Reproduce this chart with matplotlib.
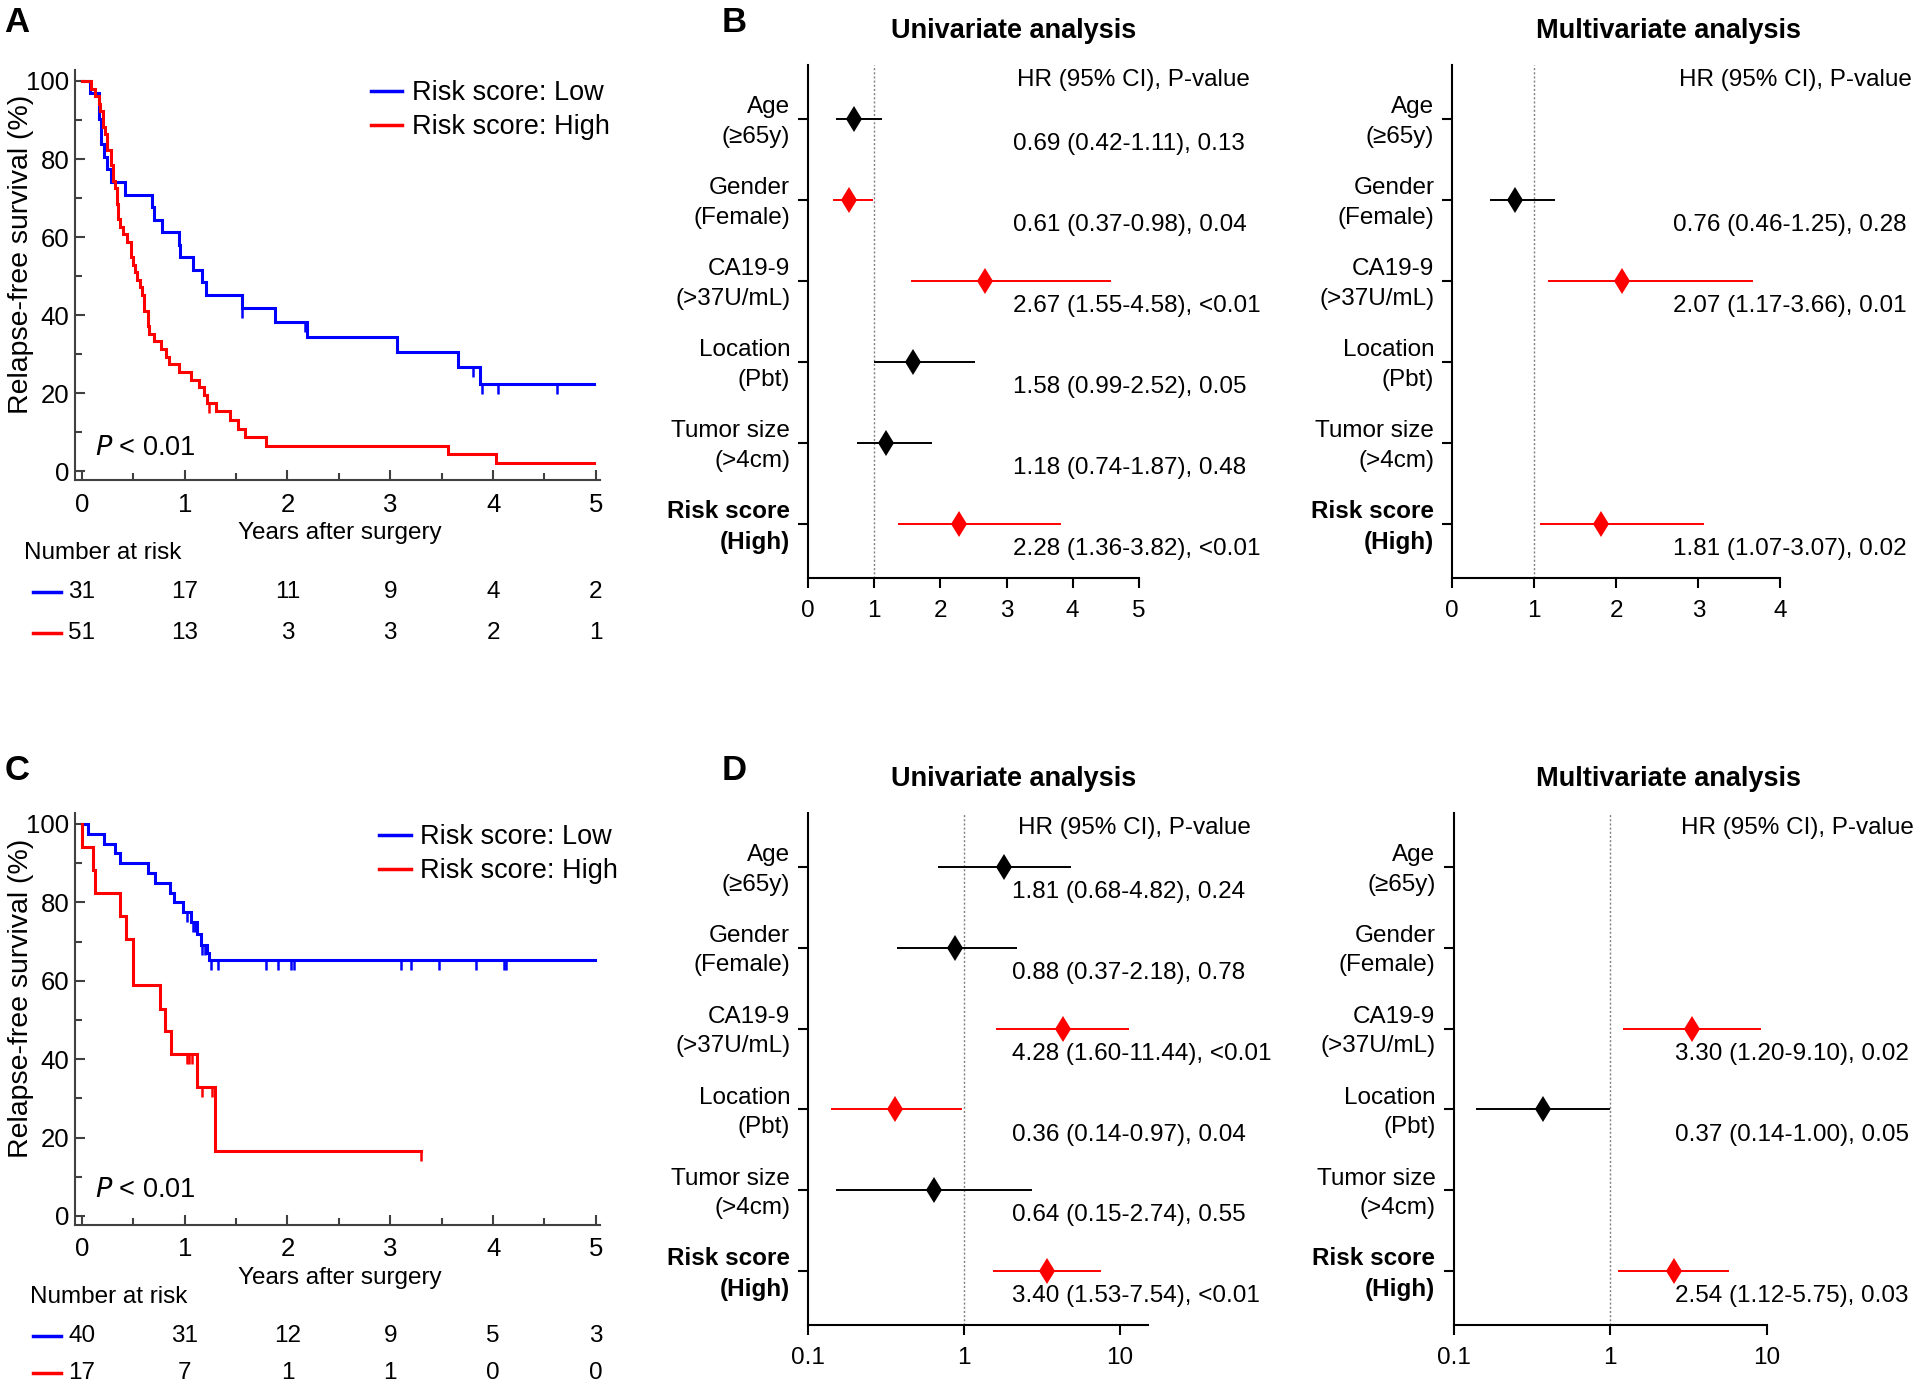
import matplotlib
matplotlib.use("Agg")
import matplotlib.pyplot as plt
from matplotlib.lines import Line2D
from matplotlib.ticker import MultipleLocator, NullLocator, FixedLocator
from matplotlib.transforms import ScaledTranslation
import numpy as np

plt.rcParams['font.family'] = ['Liberation Sans', 'DejaVu Sans']

# ---- Kaplan-Meier data (event times in years, survival % after each event) ----
low_a_t = [0.081, 0.17, 0.19, 0.217, 0.247, 0.286, 0.42, 0.684, 0.70, 0.78, 0.944, 0.955,
           1.08, 1.17, 1.21, 1.56, 1.88, 2.19, 3.07, 3.66, 3.87]
low_a_s = [96.8, 90.3, 83.9, 80.6, 77.4, 74.2, 70.8, 67.6, 64.4, 61.2, 58.0, 54.8,
           51.6, 48.4, 45.2, 41.8, 38.3, 34.5, 30.7, 26.8, 22.5]
low_a_cens = [1.56, 2.17, 3.80, 3.89, 4.05, 4.62]
low_a_end = 4.98

high_a_t = [0.093, 0.131, 0.162, 0.178, 0.201, 0.228, 0.247, 0.286, 0.298, 0.325,
            0.344, 0.356, 0.371, 0.402, 0.441, 0.480, 0.499, 0.518, 0.538, 0.568,
            0.588, 0.603, 0.642, 0.654, 0.704, 0.770, 0.820, 0.847, 0.944, 1.060,
            1.137, 1.183, 1.214, 1.303, 1.439, 1.516, 1.582, 1.794, 3.565, 4.026]
high_a_s = [98.0, 96.1, 94.1, 92.2, 88.2, 86.3, 82.4, 78.4, 74.5, 72.5,
            68.6, 64.7, 62.7, 60.8, 58.8, 54.9, 52.9, 51.0, 49.0, 47.1,
            45.1, 41.2, 37.3, 35.3, 33.3, 31.4, 29.4, 27.5, 25.5, 23.5,
            21.6, 19.6, 17.6, 15.5, 13.1, 10.8, 8.7, 6.6, 4.4, 2.2]
high_a_cens = [1.234]
high_a_end = 4.985

low_c_t = [0.058, 0.213, 0.321, 0.375, 0.639, 0.716, 0.859, 0.898, 0.979, 1.064,
           1.122, 1.161, 1.219, 1.238]
low_c_s = [97.5, 95.0, 92.5, 90.0, 87.5, 85.0, 82.5, 80.0, 77.5, 75.0,
           72.0, 69.0, 67.0, 65.2]
low_c_cens = [1.026, 1.08, 1.10, 1.17, 1.20, 1.258, 1.327, 1.788, 1.908, 2.032, 2.063,
              3.104, 3.204, 3.475, 3.831, 4.11, 4.129]
low_c_end = 4.99

high_c_t = [0.005, 0.108, 0.128, 0.375, 0.426, 0.495, 0.762, 0.813, 0.871, 1.115, 1.296]
high_c_s = [94.1, 88.2, 82.4, 76.5, 70.6, 58.8, 52.9, 47.1, 41.2, 33.0, 16.5]
high_c_cens = [1.018, 1.045, 1.072, 1.169, 1.269, 3.297]
high_c_end = 3.297

years = [0, 1, 2, 3, 4, 5]
risk_a_low = [31, 17, 11, 9, 4, 2]
risk_a_high = [51, 13, 3, 3, 2, 1]
risk_c_low = [40, 31, 12, 9, 5, 3]
risk_c_high = [17, 7, 1, 1, 0, 0]

# ---- Forest plot data ----
factors = ['Age\n(≥65y)', 'Gender\n(Female)', 'CA19-9\n(>37U/mL)', 'Location\n(Pbt)',
           'Tumor size\n(>4cm)', 'Risk score\n(High)']

b_uni_rows = [0, 1, 2, 3, 4, 5]
b_uni_hr = [0.69, 0.61, 2.67, 1.58, 1.18, 2.28]
b_uni_lo = [0.42, 0.37, 1.55, 0.99, 0.74, 1.36]
b_uni_hi = [1.11, 0.98, 4.58, 2.52, 1.87, 3.82]
b_uni_p = ['0.13', '0.04', '<0.01', '0.05', '0.48', '<0.01']

b_multi_rows = [1, 2, 5]
b_multi_hr = [0.76, 2.07, 1.81]
b_multi_lo = [0.46, 1.17, 1.07]
b_multi_hi = [1.25, 3.66, 3.07]
b_multi_p = ['0.28', '0.01', '0.02']

d_uni_rows = [0, 1, 2, 3, 4, 5]
d_uni_hr = [1.81, 0.88, 4.28, 0.36, 0.64, 3.40]
d_uni_lo = [0.68, 0.37, 1.60, 0.14, 0.15, 1.53]
d_uni_hi = [4.82, 2.18, 11.44, 0.97, 2.74, 7.54]
d_uni_p = ['0.24', '0.78', '<0.01', '0.04', '0.55', '<0.01']

d_multi_rows = [2, 3, 5]
d_multi_hr = [3.30, 0.37, 2.54]
d_multi_lo = [1.20, 0.14, 1.12]
d_multi_hi = [9.10, 1.00, 5.75]
d_multi_p = ['0.02', '0.05', '0.03']

BLUE = '#0000ff'
RED = '#ff0000'
GREY = '#404040'

W, H = 1920, 1384
fig = plt.figure(figsize=(W / 100, H / 100), dpi=100)


def px_axes(l, t, r, b):
    return fig.add_axes([l / W, 1 - b / H, (r - l) / W, (b - t) / H])


def km_curve(ax, t, s, cens, end, color):
    tt = np.r_[0, t, end]
    ss = np.r_[100, s, s[-1]]
    ax.step(tt, ss, where='post', color=color, lw=2.2, solid_joinstyle='miter')
    idx = np.searchsorted(tt, cens, side='right') - 1
    ax.plot(cens, ss[idx], ls='none', marker=3, ms=7, mew=1.8, color=color)


def km_panel(box, low, high, risk_low, risk_high, leg_xy, table_y, nar_x, p_y):
    ax = px_axes(*box)
    km_curve(ax, *low, BLUE)
    km_curve(ax, *high, RED)
    ax.set_xlim(-0.07, 5.04)
    ax.set_ylim(-2.2, 102.8)
    ax.xaxis.set_major_locator(FixedLocator(years))
    ax.xaxis.set_minor_locator(MultipleLocator(0.5))
    ax.yaxis.set_major_locator(MultipleLocator(20))
    ax.yaxis.set_minor_locator(MultipleLocator(10))
    for sp in ['top', 'right']:
        ax.spines[sp].set_visible(False)
    for sp in ['left', 'bottom']:
        ax.spines[sp].set_color(GREY)
        ax.spines[sp].set_linewidth(1.5)
    ax.tick_params(which='both', direction='in', color=GREY, width=1.5, labelsize=18.5)
    ax.tick_params(which='major', length=7)
    ax.tick_params(which='minor', length=5)
    ax.tick_params(axis='y', pad=4)
    ax.tick_params(axis='x', pad=9)
    ax.set_ylabel('Relapse-free survival (%)', fontsize=20.5)
    ax.yaxis.set_label_coords(-0.077, 0.55)
    ax.set_xlabel('Years after surgery', fontsize=17.5)
    ax.xaxis.set_label_coords(0.505, -0.103)
    ax.text(0.13, p_y, '$P$ < 0.01', fontsize=19.5, ha='left', va='center')
    handles = [Line2D([], [], color=BLUE, lw=2.5), Line2D([], [], color=RED, lw=2.5)]
    ax.legend(handles, ['Risk score: Low', 'Risk score: High'], loc='upper left',
              bbox_to_anchor=leg_xy, frameon=False, fontsize=19.5, handlelength=1.15,
              handletextpad=0.35, labelspacing=0.3, borderpad=0, borderaxespad=0)
    tr = ax.get_xaxis_transform()
    ax.text(nar_x, table_y[0], 'Number at risk', transform=tr, fontsize=17.5,
            ha='left', va='center', clip_on=False)
    for row_y, counts, color in [(table_y[1], risk_low, BLUE), (table_y[2], risk_high, RED)]:
        ax.plot([-0.476, -0.204], [row_y, row_y], transform=tr, color=color, lw=2.5,
                clip_on=False)
        for x, n in zip(years, counts):
            ax.text(x, row_y, str(n), transform=tr, fontsize=17.5, ha='center',
                    va='center', clip_on=False)
    return ax


km_panel((74.7, 70, 600, 480),
         (low_a_t, low_a_s, low_a_cens, low_a_end),
         (high_a_t, high_a_s, high_a_cens, high_a_end),
         risk_a_low, risk_a_high, (0.564, 0.975), (-0.178, -0.274, -0.373), -0.56, 6.0)
km_panel((74.7, 813, 600, 1224.6),
         (low_c_t, low_c_s, low_c_cens, low_c_end),
         (high_c_t, high_c_s, high_c_cens, high_c_end),
         risk_c_low, risk_c_high, (0.580, 0.973), (-0.177, -0.270, -0.360), -0.50, 6.5)


def forest_panel(box, rows, hr, lo, hi, pvals, log, xlim, xticks, text_x, head_x):
    ax = px_axes(*box)
    ys = [6 - r for r in rows]
    ax.axvline(1, color='#808080', lw=1, ls=(0, (1.5, 1.5)), zorder=1)
    for y, h, a, b, p in zip(ys, hr, lo, hi, pvals):
        c = RED if float(p.strip('<')) < 0.05 else 'black'
        ax.hlines(y, a, b, color=c, lw=1.4, zorder=2)
        ax.plot(h, y, marker='d', ms=13.5, mew=0, color=c, ls='none', zorder=3)
        ax.text(text_x, y - 0.31, f'{h:.2f} ({a:.2f}-{b:.2f}), {p}',
                transform=ax.get_yaxis_transform(), fontsize=17.5, ha='left', va='center')
    ax.text(head_x, 6.48, 'HR (95% CI), P-value', transform=ax.get_yaxis_transform(),
            fontsize=17.5, ha='left', va='center', clip_on=False)
    if log:
        ax.set_xscale('log')
    ax.set_xlim(*xlim)
    ax.set_ylim(0.335, 6.665)
    ax.set_xticks(xticks)
    ax.set_xticklabels([f'{v:g}' for v in xticks])
    ax.xaxis.set_minor_locator(NullLocator())
    ax.set_yticks([6, 5, 4, 3, 2, 1])
    ax.set_yticklabels([])
    # factor labels, placed left of the y-axis ticks
    lab_tr = ax.get_yaxis_transform() + ScaledTranslation(-0.18, -0.03, fig.dpi_scale_trans)
    for i, lab in enumerate(factors):
        ax.text(0, 6 - i, lab, transform=lab_tr, fontsize=17.5, ha='right', va='center',
                linespacing=1.45, clip_on=False,
                fontweight='bold' if i == len(factors) - 1 else 'normal')
    for sp in ['top', 'right']:
        ax.spines[sp].set_visible(False)
    for sp in ['left', 'bottom']:
        ax.spines[sp].set_linewidth(1.5)
    ax.tick_params(direction='out', length=7, width=1.5, labelsize=17.5)
    ax.tick_params(axis='x', pad=8.5)
    return ax


forest_panel((808.2, 64.9, 1138.8, 578), b_uni_rows, b_uni_hr, b_uni_lo, b_uni_hi, b_uni_p,
             False, (0, 5), [0, 1, 2, 3, 4, 5], 0.619, 0.633)
forest_panel((1452.3, 64.9, 1780.4, 578), b_multi_rows, b_multi_hr, b_multi_lo, b_multi_hi,
             b_multi_p, False, (0, 4), [0, 1, 2, 3, 4], 0.672, 0.690)
forest_panel((808.2, 813, 1148, 1325), d_uni_rows, d_uni_hr, d_uni_lo, d_uni_hi, d_uni_p,
             True, (0.1, 15.1), [0.1, 1, 10], 0.600, 0.616)
forest_panel((1453.5, 813, 1767, 1325), d_multi_rows, d_multi_hr, d_multi_lo, d_multi_hi,
             d_multi_p, True, (0.1, 10), [0.1, 1, 10], 0.708, 0.727)

# titles and panel letters
for x, y, s in [(1014, 31.5, 'Univariate analysis'), (1668, 31.5, 'Multivariate analysis'),
                (1014, 778.5, 'Univariate analysis'), (1668, 778.5, 'Multivariate analysis')]:
    fig.text(x / W, 1 - y / H, s, fontsize=19.5, fontweight='bold', ha='center', va='center')
for x, y, s in [(17, 22, 'A'), (734, 22, 'B'), (17, 771, 'C'), (734, 771, 'D')]:
    fig.text(x / W, 1 - y / H, s, fontsize=25, fontweight='bold', ha='center', va='center')

fig.savefig('out.png', dpi=100)
